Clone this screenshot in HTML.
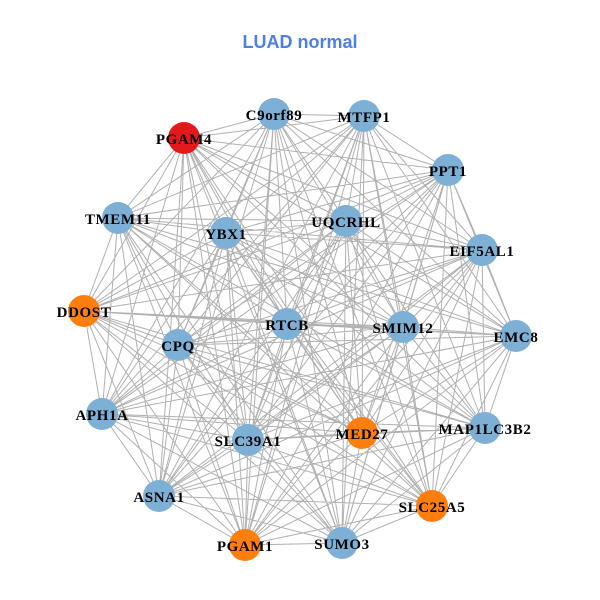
<!DOCTYPE html>
<html><head><meta charset="utf-8"><style>
html,body{margin:0;padding:0;background:#fff;width:600px;height:600px;overflow:hidden}
svg text{font-family:"Liberation Serif",serif;font-weight:bold;font-size:15px;letter-spacing:0.6px;fill:#000}
</style></head><body>
<svg width="600" height="600" viewBox="0 0 600 600" xmlns="http://www.w3.org/2000/svg">
<text x="300" y="48" text-anchor="middle" style="font-family:'Liberation Sans',sans-serif;font-size:18px;letter-spacing:0;fill:#4f7ee8;font-weight:bold">LUAD normal</text>
<path fill="none" stroke="#b0b0b0" stroke-width="1" d="
M274 114L364 116M274 114L184 138M274 114L448 170M274 114L118 218M274 114L226 233M274 114L346 221M274 114L482 250M274 114L84 311M274 114L287 324M274 114L403 327M274 114L516 336M274 114L178 345M274 114L102 414M274 114L248 440M274 114L362 433M274 114L485 428M274 114L159 496M274 114L432 506M274 114L245 545M274 114L342 543
M364 116L184 138M364 116L448 170M364 116L118 218M364 116L226 233M364 116L346 221M364 116L482 250M364 116L84 311M364 116L287 324M364 116L403 327M364 116L516 336M364 116L178 345M364 116L102 414M364 116L248 440M364 116L362 433M364 116L485 428M364 116L159 496M364 116L432 506M364 116L245 545M364 116L342 543
M184 138L448 170M184 138L118 218M184 138L226 233M184 138L346 221M184 138L482 250M184 138L84 311M184 138L287 324M184 138L403 327M184 138L516 336M184 138L178 345M184 138L102 414M184 138L248 440M184 138L362 433M184 138L485 428M184 138L159 496M184 138L432 506M184 138L245 545M184 138L342 543
M448 170L118 218M448 170L226 233M448 170L346 221M448 170L482 250M448 170L84 311M448 170L287 324M448 170L403 327M448 170L516 336M448 170L178 345M448 170L102 414M448 170L248 440M448 170L362 433M448 170L485 428M448 170L159 496M448 170L432 506M448 170L245 545M448 170L342 543
M118 218L226 233M118 218L346 221M118 218L482 250M118 218L84 311M118 218L287 324M118 218L403 327M118 218L516 336M118 218L178 345M118 218L102 414M118 218L248 440M118 218L362 433M118 218L485 428M118 218L159 496M118 218L432 506M118 218L245 545M118 218L342 543
M226 233L346 221M226 233L482 250M226 233L84 311M226 233L287 324M226 233L403 327M226 233L516 336M226 233L178 345M226 233L102 414M226 233L248 440M226 233L362 433M226 233L485 428M226 233L159 496M226 233L432 506M226 233L245 545M226 233L342 543
M346 221L482 250M346 221L84 311M346 221L287 324M346 221L403 327M346 221L516 336M346 221L178 345M346 221L102 414M346 221L248 440M346 221L362 433M346 221L485 428M346 221L159 496M346 221L432 506M346 221L245 545M346 221L342 543
M482 250L84 311M482 250L287 324M482 250L403 327M482 250L516 336M482 250L178 345M482 250L102 414M482 250L248 440M482 250L362 433M482 250L485 428M482 250L159 496M482 250L432 506M482 250L245 545M482 250L342 543
M84 311L287 324M84 311L403 327M84 311L516 336M84 311L178 345M84 311L102 414M84 311L248 440M84 311L362 433M84 311L485 428M84 311L159 496M84 311L432 506M84 311L245 545M84 311L342 543
M287 324L403 327M287 324L516 336M287 324L178 345M287 324L102 414M287 324L248 440M287 324L362 433M287 324L485 428M287 324L159 496M287 324L432 506M287 324L245 545M287 324L342 543
M403 327L516 336M403 327L178 345M403 327L102 414M403 327L248 440M403 327L362 433M403 327L485 428M403 327L159 496M403 327L432 506M403 327L245 545M403 327L342 543
M516 336L178 345M516 336L102 414M516 336L248 440M516 336L362 433M516 336L485 428M516 336L159 496M516 336L432 506M516 336L245 545M516 336L342 543
M178 345L102 414M178 345L248 440M178 345L362 433M178 345L485 428M178 345L159 496M178 345L432 506M178 345L245 545M178 345L342 543
M102 414L248 440M102 414L362 433M102 414L485 428M102 414L159 496M102 414L432 506M102 414L245 545M102 414L342 543
M248 440L362 433M248 440L485 428M248 440L159 496M248 440L432 506M248 440L245 545M248 440L342 543
M362 433L485 428M362 433L159 496M362 433L432 506M362 433L245 545M362 433L342 543
M485 428L159 496M485 428L432 506M485 428L245 545M485 428L342 543
M159 496L432 506M159 496L245 545M159 496L342 543
M432 506L245 545M432 506L342 543
M245 545L342 543"/>
<g stroke="none">
<circle cx="274" cy="114" r="16" fill="#7eb0d6"/>
<circle cx="364" cy="116" r="16" fill="#7eb0d6"/>
<circle cx="184" cy="138" r="16" fill="#e31a1c"/>
<circle cx="448" cy="170" r="16" fill="#7eb0d6"/>
<circle cx="118" cy="218" r="16" fill="#7eb0d6"/>
<circle cx="226" cy="233" r="16" fill="#7eb0d6"/>
<circle cx="346" cy="221" r="16" fill="#7eb0d6"/>
<circle cx="482" cy="250" r="16" fill="#7eb0d6"/>
<circle cx="84" cy="311" r="16" fill="#ff7f0e"/>
<circle cx="287" cy="324" r="16" fill="#7eb0d6"/>
<circle cx="403" cy="327" r="16" fill="#7eb0d6"/>
<circle cx="516" cy="336" r="16" fill="#7eb0d6"/>
<circle cx="178" cy="345" r="16" fill="#7eb0d6"/>
<circle cx="102" cy="414" r="16" fill="#7eb0d6"/>
<circle cx="248" cy="440" r="16" fill="#7eb0d6"/>
<circle cx="362" cy="433" r="16" fill="#ff7f0e"/>
<circle cx="485" cy="428" r="16" fill="#7eb0d6"/>
<circle cx="159" cy="496" r="16" fill="#7eb0d6"/>
<circle cx="432" cy="506" r="16" fill="#ff7f0e"/>
<circle cx="245" cy="545" r="16" fill="#ff7f0e"/>
<circle cx="342" cy="543" r="16" fill="#7eb0d6"/>
</g>
<g text-anchor="middle">
<text x="274" y="120">C9orf89</text>
<text x="364" y="122">MTFP1</text>
<text x="184" y="144">PGAM4</text>
<text x="448" y="176">PPT1</text>
<text x="118" y="224">TMEM11</text>
<text x="226" y="239">YBX1</text>
<text x="346" y="227">UQCRHL</text>
<text x="482" y="256">EIF5AL1</text>
<text x="84" y="317">DDOST</text>
<text x="287" y="330">RTCB</text>
<text x="403" y="333">SMIM12</text>
<text x="516" y="342">EMC8</text>
<text x="178" y="351">CPQ</text>
<text x="102" y="420">APH1A</text>
<text x="248" y="446">SLC39A1</text>
<text x="362" y="439">MED27</text>
<text x="485" y="434">MAP1LC3B2</text>
<text x="159" y="502">ASNA1</text>
<text x="432" y="512">SLC25A5</text>
<text x="245" y="551">PGAM1</text>
<text x="342" y="549">SUMO3</text>
</g>
</svg>
</body></html>
